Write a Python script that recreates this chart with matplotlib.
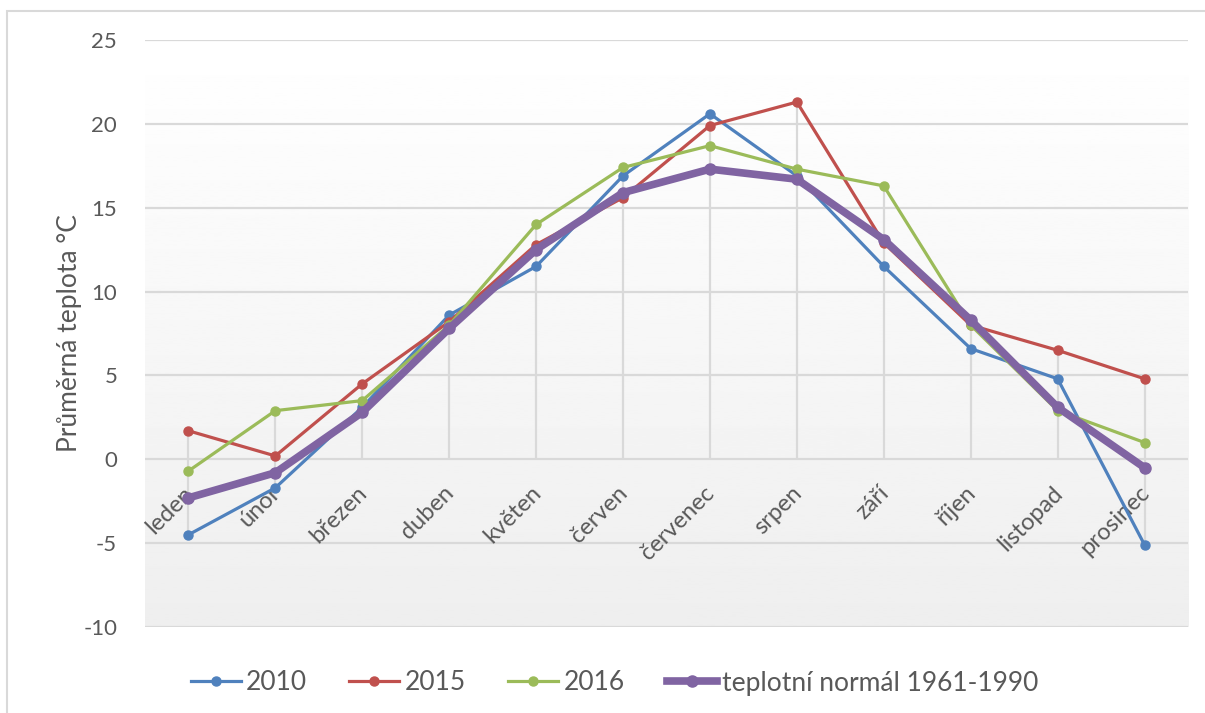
import numpy as np
import matplotlib.pyplot as plt
from matplotlib.patches import Rectangle
from matplotlib.transforms import ScaledTranslation

months = ['leden', 'únor', 'březen', 'duben', 'květen', 'červen',
          'červenec', 'srpen', 'září', 'říjen', 'listopad', 'prosinec']

t2010 = [-4.5, -1.7, 3.1, 8.6, 11.5, 16.9, 20.6, 16.9, 11.5, 6.6, 4.8, -5.1]
t2015 = [1.7, 0.2, 4.5, 8.2, 12.8, 15.6, 19.9, 21.3, 12.9, 8.0, 6.5, 4.8]
t2016 = [-0.7, 2.9, 3.5, 8.0, 14.0, 17.4, 18.7, 17.3, 16.3, 8.0, 2.9, 1.0]
normal = [-2.3, -0.8, 2.8, 7.8, 12.5, 15.9, 17.3, 16.7, 13.1, 8.3, 3.1, -0.5]

yticks = [-10, -5, 0, 5, 10, 15, 20, 25]

plt.rcParams['font.family'] = ['Lato', 'DejaVu Sans']
txt = '#595959'
grid = '#d9d9d9'

fig = plt.figure(figsize=(12.05, 7.13), dpi=100)
ax = fig.add_axes([0.1203, 0.1206, 0.8656, 0.8233])

# outer chart border
fig.patches.append(Rectangle((7.5 / 1205, -0.1), 1.2, 1.1 - 11 / 713,
                             transform=fig.transFigure, fill=False,
                             edgecolor=grid, linewidth=1.5))

x = np.arange(len(months))
ax.set_xlim(-0.5, len(months) - 0.5)
ax.set_ylim(-10, 25)

# plot area gradient: white at top -> light gray at bottom
grad = np.linspace(1.0, 0.935, 256).reshape(-1, 1)
ax.imshow(grad, extent=[0, 1, 0, 1], transform=ax.transAxes, aspect='auto',
          cmap='gray', vmin=0, vmax=1, zorder=0)

for v in yticks:
    ax.axhline(v, color=grid, lw=1.6, zorder=1)

# drop lines to the category axis
allv = np.array([t2010, t2015, t2016, normal])
lo = np.minimum(allv.min(axis=0), 0)
hi = np.maximum(allv.max(axis=0), 0)
ax.vlines(x, lo, hi, color=grid, lw=1.6, zorder=1)

ax.plot(x, t2010, color='#4F81BD', lw=2.3, marker='o', ms=6.5, label='2010', zorder=3)
ax.plot(x, t2015, color='#C0504D', lw=2.3, marker='o', ms=6.5, label='2015', zorder=3)
ax.plot(x, t2016, color='#9BBB59', lw=2.3, marker='o', ms=6.5, label='2016', zorder=3)
ax.plot(x, normal, color='#8064A2', lw=5.5, marker='o', ms=8, label='teplotní normál 1961-1990', zorder=4)

for s in ax.spines.values():
    s.set_visible(False)

ax.set_yticks(yticks)
ax.set_yticklabels([str(v) for v in yticks], fontsize=16, color=txt)
ax.set_xticks([])
ax.tick_params(axis='both', length=0)
ax.tick_params(axis='y', pad=20)

# category labels sit at the 0 line, rotated 45 degrees
off = ScaledTranslation(-0.06, -0.23, fig.dpi_scale_trans)
for xi, m in zip(x, months):
    ax.text(xi, 0, m, rotation=45, ha='right', va='top', rotation_mode='anchor',
            fontsize=17, color=txt, transform=ax.transData + off, zorder=2)

ax.set_ylabel('Průměrná teplota °C', fontsize=19, color=txt, labelpad=1)

fig.legend(loc='center', bbox_to_anchor=(0.51, 1 - 683 / 713), ncol=4, frameon=False,
           fontsize=19, labelcolor=txt, handlelength=1.9, handletextpad=0.2,
           columnspacing=1.6)

fig.savefig('out.png', dpi=100)
